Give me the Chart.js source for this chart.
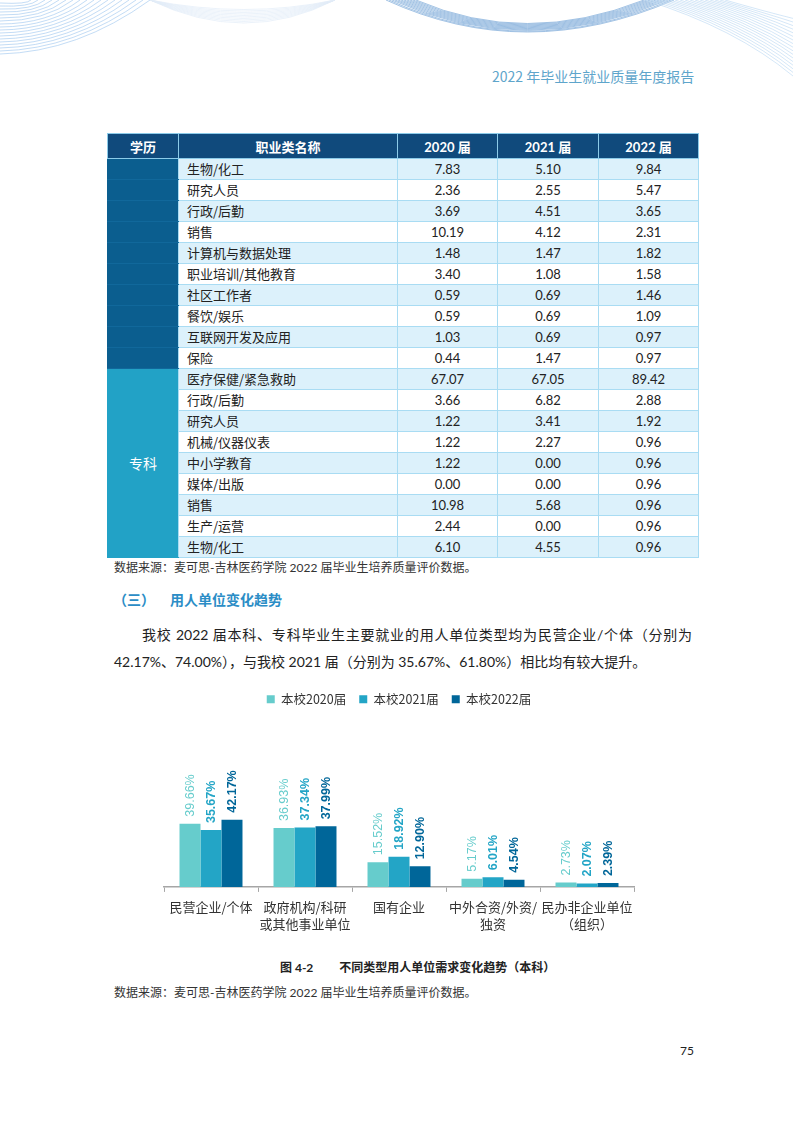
<!DOCTYPE html>
<html lang="zh">
<head>
<meta charset="utf-8">
<title>不同类型用人单位需求变化趋势（本科）</title>
<script src="https://cdn.jsdelivr.net/npm/chart.js@4.4.0/dist/chart.umd.min.js"></script>
<style>
  html, body { margin: 0; padding: 0; background: #fff; }
  #page { position: relative; width: 793px; height: 1122px; overflow: hidden;
          font-family: "Lato", "Noto Sans CJK SC", sans-serif; color: #222; }
  #deco { position: absolute; left: 0; top: 0; }
  .abs { position: absolute; white-space: nowrap; }
  #runHead { left: 492px; top: 66px; font-size: 14px; color: #5ea5cb; font-family: "Noto Sans CJK SC", sans-serif; }

  table#occ { position: absolute; left: 107px; top: 133px; width: 591px;
              border-collapse: collapse; table-layout: fixed; font-size: 13px; }
  #occ th { height: 24px; padding: 0; background: #104a7c; color: #fff; font-weight: bold;
            border: 1px solid #8ccbe9; font-size: 13px; }
  #occ td { height: 20px; padding: 0; border: 1px solid #a9dcf3; text-align: center; line-height: 20px; }
  #occ td.name { text-align: left; padding-left: 8px; font-family: "Noto Sans CJK SC", sans-serif; }
  #occ tr.light td { background: #dcf1fb; }
  #occ tr.white td { background: #fff; }
  #occ tr td.edu1 { background: #0b5e8f; border-top-color: #11689b; border-bottom-color: #11689b;
                    border-left-color: #0b5e8f; border-right-color: #a9dcf3; }
  #occ tr td.edu2 { background: #22a2c6; color: #fff; font-size: 14px; border-color: #22a2c6;
                    border-right-color: #a9dcf3; font-family: "Noto Sans CJK SC", sans-serif; }

  .note { font-size: 12px; color: #333; }
  #note1 { left: 114px; top: 558px; }
  #secHead { left: 113px; top: 589px; font-size: 14px; font-weight: bold; color: #2b8dc6; font-family: "Noto Sans CJK SC", sans-serif; }
  #secHead span { position: absolute; left: 57px; }
  #para1 { left: 142px; top: 624px; width: 550px; font-size: 14px; text-align: justify; text-align-last: justify; }
  #para2 { left: 114px; top: 651px; font-size: 14px; }
  #unitChart { position: absolute; left: 100px; top: 680px; }
  #caption { left: 280px; top: 958px; font-size: 12px; font-weight: bold; color: #222; }
  #caption span { margin-left: 26px; }
  #note2 { left: 114px; top: 983px; }
  #pageNo { left: 680px; top: 1043px; font-size: 12px; color: #222; }
</style>
</head>
<body>
<div id="page">
  <svg id="deco" width="793" height="110"></svg>
  <div class="abs" id="runHead">2022 年毕业生就业质量年度报告</div>

  <table id="occ">
    <colgroup><col style="width:71px"><col style="width:219px"><col style="width:100px"><col style="width:101px"><col style="width:100px"></colgroup>
    <thead><tr><th>学历</th><th>职业类名称</th><th>2020 届</th><th>2021 届</th><th>2022 届</th></tr></thead>
    <tbody></tbody>
  </table>

  <div class="abs note" id="note1">数据来源：麦可思-吉林医药学院 2022 届毕业生培养质量评价数据。</div>
  <div class="abs" id="secHead">（三）<span>用人单位变化趋势</span></div>
  <div class="abs" id="para1">我校 2022 届本科、专科毕业生主要就业的用人单位类型均为民营企业/个体（分别为</div>
  <div class="abs" id="para2">42.17%、74.00%），与我校 2021 届（分别为 35.67%、61.80%）相比均有较大提升。</div>

  <canvas id="unitChart" width="580" height="260"></canvas>

  <div class="abs" id="caption">图 4-2<span>不同类型用人单位需求变化趋势（本科）</span></div>
  <div class="abs note" id="note2">数据来源：麦可思-吉林医药学院 2022 届毕业生培养质量评价数据。</div>
  <div class="abs" id="pageNo">75</div>
</div>

<script>
// ---- table data (职业类, %) ----
let occBachelor = ['生物/化工', '研究人员', '行政/后勤', '销售', '计算机与数据处理', '职业培训/其他教育', '社区工作者', '餐饮/娱乐', '互联网开发及应用', '保险']
let bach2020 = [7.83, 2.36, 3.69, 10.19, 1.48, 3.40, 0.59, 0.59, 1.03, 0.44]
let bach2021 = [5.10, 2.55, 4.51, 4.12, 1.47, 1.08, 0.69, 0.69, 0.69, 1.47]
let bach2022 = [9.84, 5.47, 3.65, 2.31, 1.82, 1.58, 1.46, 1.09, 0.97, 0.97]

let occJunior = ['医疗保健/紧急救助', '行政/后勤', '研究人员', '机械/仪器仪表', '中小学教育', '媒体/出版', '销售', '生产/运营', '生物/化工']
let jun2020 = [67.07, 3.66, 1.22, 1.22, 1.22, 0.00, 10.98, 2.44, 6.10]
let jun2021 = [67.05, 6.82, 3.41, 2.27, 0.00, 0.00, 5.68, 0.00, 4.55]
let jun2022 = [89.42, 2.88, 1.92, 0.96, 0.96, 0.96, 0.96, 0.96, 0.96]

// ---- chart data (用人单位类型, %) ----
let categories = [['民营企业/个体'], ['政府机构/科研', '或其他事业单位'], ['国有企业'], ['中外合资/外资/', '独资'], ['民办非企业单位', '（组织）']]
let seriesNames = ['本校2020届', '本校2021届', '本校2022届']
let share2020 = [39.66, 36.93, 15.52, 5.17, 2.73]
let share2021 = [35.67, 37.34, 18.92, 6.01, 2.07]
let share2022 = [42.17, 37.99, 12.90, 4.54, 2.39]
let seriesColors = ['#66cccc', '#23a5c6', '#006699']

// table rows
let tbody = document.querySelector('#occ tbody')
let rowNo = 0
function addRows(names, a, b, c, eduLabel) {
    names.forEach(function(n, k) {
        let tr = document.createElement('tr')
        tr.className = rowNo % 2 == 0 ? 'light' : 'white'
        let html = ''
        if (eduLabel == null) html += '<td class="edu1"></td>'
        else if (k == 0) html += '<td class="edu2" rowspan="' + names.length + '">' + eduLabel + '</td>'
        html += '<td class="name">' + n + '</td><td>' + a[k].toFixed(2) + '</td><td>' + b[k].toFixed(2) + '</td><td>' + c[k].toFixed(2) + '</td>'
        tr.innerHTML = html
        tbody.appendChild(tr)
        rowNo++
    })
}
addRows(occBachelor, bach2020, bach2021, bach2022, null)
addRows(occJunior, jun2020, jun2021, jun2022, '专科')

// header curves (decoration only)
let svg = document.getElementById('deco')
let paths = ''
for (let i = 0; i < 18; i++) {
    paths += '<path d="M0,' + (54 - i * 3) + ' Q' + (78 - i * 3) + ',' + (52 - i * 2.8) + ' ' + (150 - i * 7) + ',0" stroke="#a9cdf0" />'
}
for (let i = 0; i < 10; i++) {
    paths += '<path d="M150,0 Q245,' + (46 - i * 3) + ' 335,0" stroke="#e3edf8" />'
}
for (let i = 0; i < 11; i++) {
    paths += '<path d="M' + (386 + i * 3) + ',0 Q525,' + (64 - i * 1.7) + ' ' + (674 - i * 3) + ',0" stroke="#7ba9d8" />'
}
for (let i = 0; i < 17; i++) {
    paths += '<path d="M' + (645 + i * 5) + ',0 Q' + (735 + i * 2) + ',' + (28 - i * 1) + ' 793,' + (76 - i * 3.6) + '" stroke="#c3dcf3" />'
}
svg.innerHTML = '<g fill="none" stroke-width="0.7">' + paths + '</g>'

// vertical value labels above each bar
const barValueLabels = {
    id: 'barValueLabels',
    afterDatasetsDraw(chart) {
        let ctx = chart.ctx
        chart.data.datasets.forEach(function(ds, i) {
            chart.getDatasetMeta(i).data.forEach(function(bar, j) {
                ctx.save()
                ctx.translate(bar.x + 1, bar.y - 7)
                ctx.rotate(-Math.PI / 2)
                ctx.font = (i == 0 ? '' : 'bold ') + '12.5px "Liberation Sans", Arial, sans-serif'
                ctx.fillStyle = seriesColors[i]
                ctx.textAlign = 'left'
                ctx.textBaseline = 'middle'
                ctx.fillText(ds.data[j].toFixed(2) + '%', 0, 0)
                ctx.restore()
            })
        })
    }
}

// extra space under the legend
const legendGap = {
    id: 'legendGap',
    beforeInit(chart) {
        let fit = chart.legend.fit
        chart.legend.fit = function() {
            fit.bind(chart.legend)()
            this.height += 12
        }
    }
}

new Chart(document.getElementById('unitChart'), {
    type: 'bar',
    data: {
        labels: categories,
        datasets: [
            { label: seriesNames[0], data: share2020, backgroundColor: seriesColors[0] },
            { label: seriesNames[1], data: share2021, backgroundColor: seriesColors[1] },
            { label: seriesNames[2], data: share2022, backgroundColor: seriesColors[2] }
        ]
    },
    options: {
        responsive: false,
        animation: false,
        layout: { padding: { left: 64, right: 46, top: 0, bottom: 1 } },
        datasets: { bar: { categoryPercentage: 0.67, barPercentage: 1 } },
        scales: {
            x: {
                grid: { display: true, offset: true, drawOnChartArea: false, drawTicks: true, tickLength: 5, color: '#a6a6a6' },
                border: { display: true, color: '#a6a6a6', width: 1.5 },
                ticks: {
                    color: '#333', padding: 6, maxRotation: 0, minRotation: 0, autoSkip: false,
                    font: { size: 13, family: '"Noto Sans CJK SC", sans-serif', lineHeight: 1.35 }
                }
            },
            y: { display: false, min: 0, max: 100 }
        },
        plugins: {
            legend: {
                position: 'top',
                labels: {
                    boxWidth: 8, boxHeight: 8, padding: 13, color: '#333',
                    font: { size: 12.5, family: '"Noto Sans CJK SC", sans-serif' }
                }
            },
            tooltip: { enabled: false }
        }
    },
    plugins: [legendGap, barValueLabels]
})
</script>
</body>
</html>
